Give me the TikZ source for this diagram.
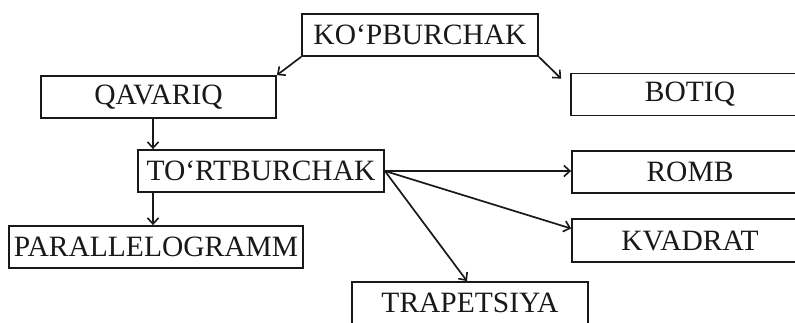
\documentclass[tikz,border=0pt]{standalone}
\usepackage{fontspec}
\setmainfont{Liberation Serif}
\usetikzlibrary{arrows.meta,calc}
\begin{document}
\begin{tikzpicture}[x=1pt,y=-1pt,
  box/.style={draw=black!90,line width=1.8pt,inner sep=0pt,anchor=center,
    font=\fontsize{29.5}{33}\selectfont,text=black!90},
  arr/.style={draw=black!90,line width=1.7pt,-{Straight Barb[length=6pt,width=11pt,line width=1.6pt]}}]
\useasboundingbox (0,0) rectangle (795,322);
\clip (0,0) rectangle (795,322);
\fill[white] (0,0) rectangle (795,322);
\node[box,minimum width=236pt,minimum height=42pt] (kop) at (420,35) {KO‘PBURCHAK};
\node[box,minimum width=235pt,minimum height=42pt] (qav) at (158.5,97) {QAVARIQ};
\node[box,minimum width=238pt,minimum height=42pt] (botiq) at (690,94.5) {BOTIQ};
\node[box,minimum width=246pt,minimum height=42pt] (tort) at (261,171) {TO‘RTBURCHAK};
\node[box,minimum width=236pt,minimum height=42pt] (romb) at (690,172) {ROMB};
\node[box,minimum width=236pt,minimum height=43pt] (kvad) at (690,240.5) {KVADRAT};
\node[box,minimum width=294pt,minimum height=42pt] (par) at (156,247) {PARALLELOGRAMM};
\node[box,minimum width=236pt,minimum height=42pt] (trap) at (470,303) {TRAPETSIYA};
\coordinate (vx) at (153,0);
\draw[arr] (kop.south west) -- (qav.north east);
\draw[arr] (kop.south east) -- ($(botiq.north west)+(-9,6)$);
\draw[arr] (qav.south -| vx) -- (tort.north -| vx);
\draw[arr] (tort.south -| vx) -- (par.north -| vx);
\draw[arr] (tort.east) -- (tort.east -| romb.west);
\draw[arr] (tort.east) -- ([yshift=12pt]kvad.west);
\draw[arr] (tort.east) -- ([xshift=-3pt]trap.north);
\end{tikzpicture}
\end{document}
